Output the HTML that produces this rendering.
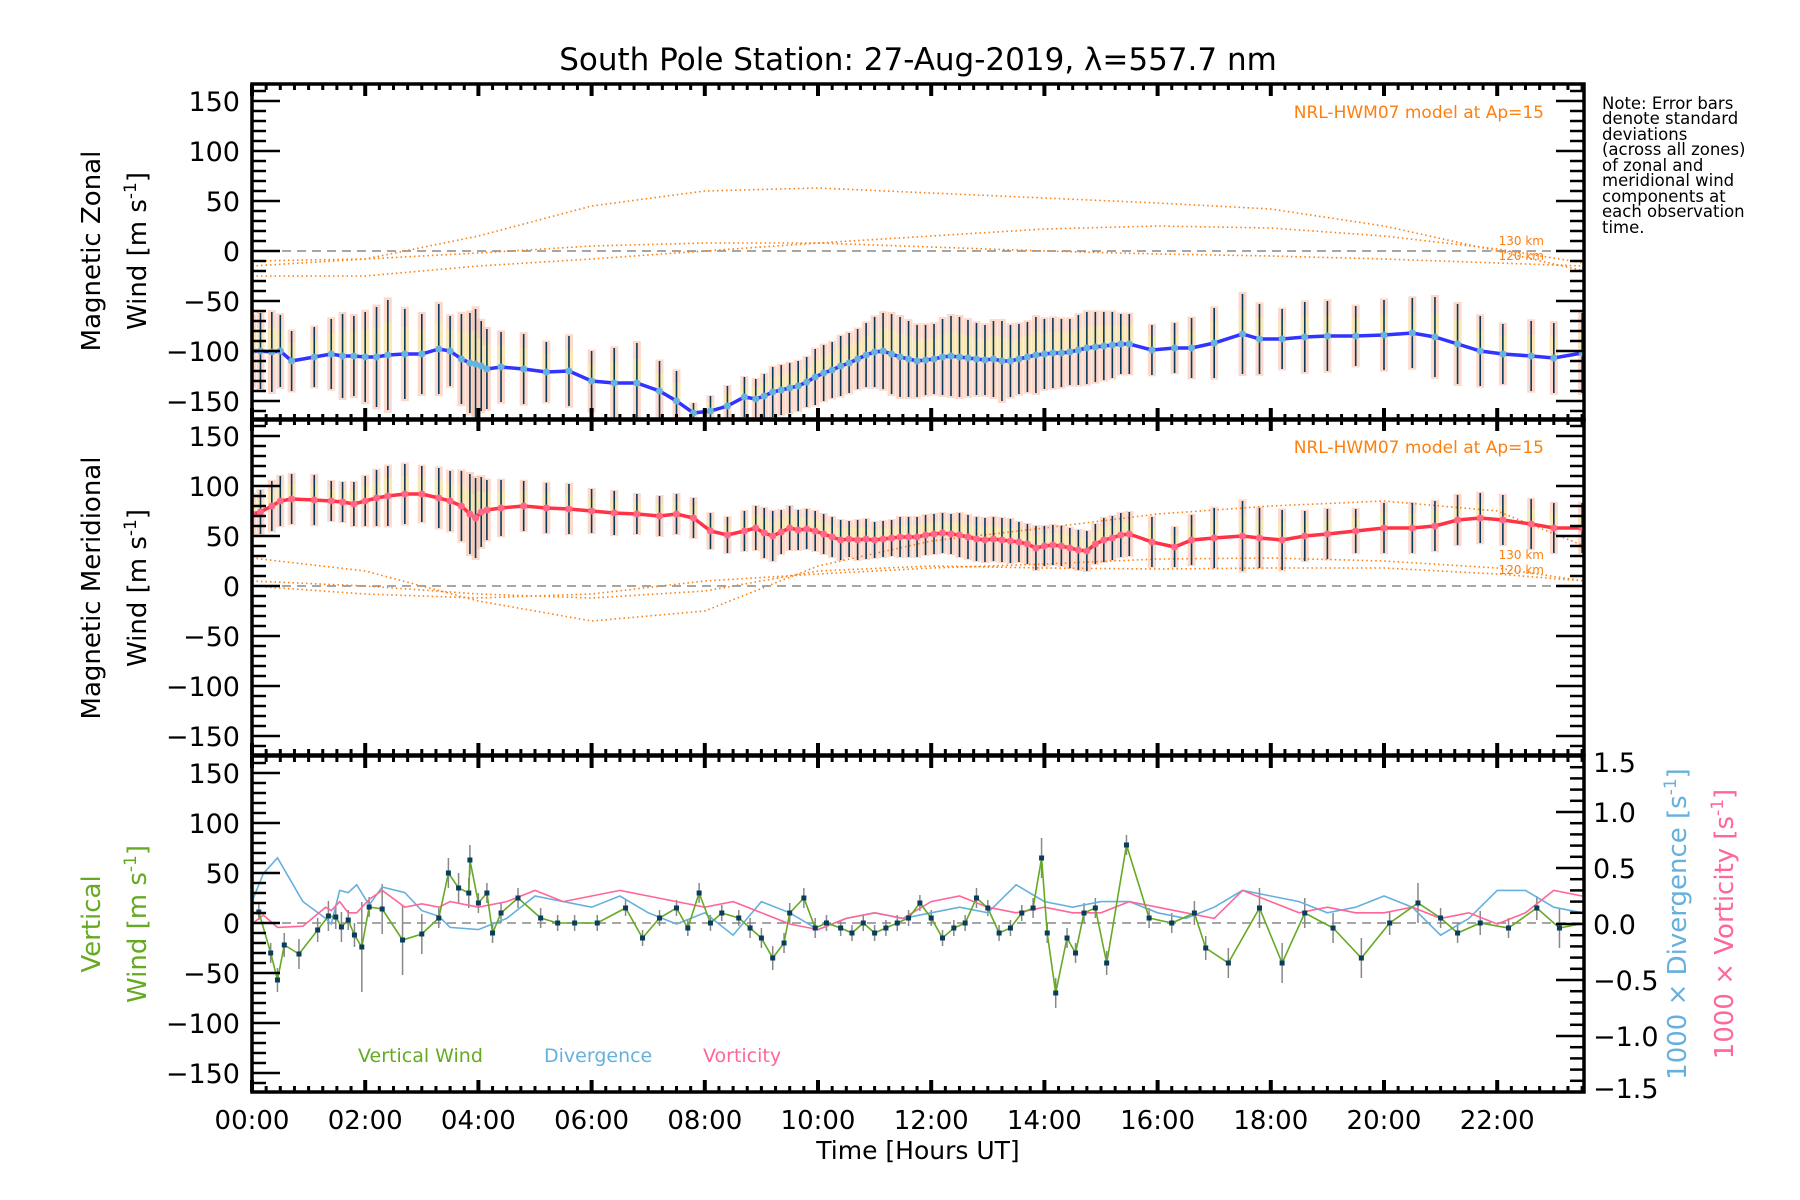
<!DOCTYPE html>
<html><head><meta charset="utf-8"><style>
html,body{margin:0;padding:0;background:#fff}
svg{display:block}
text{font-family:"DejaVu Sans","Liberation Sans",sans-serif}
</style></head><body>
<svg id="c" width="1800" height="1200" viewBox="0 0 1800 1200" xmlns="http://www.w3.org/2000/svg">
<rect width="1800" height="1200" fill="#fff"/>
<text x="918" y="70" font-size="31" text-anchor="middle">South Pole Station: 27-Aug-2019, λ=557.7 nm</text>
<g id="note" font-size="16.5">
<text x="1602" y="109">Note: Error bars</text><text x="1602" y="124">denote standard</text><text x="1602" y="140">deviations</text><text x="1602" y="155">(across all zones)</text><text x="1602" y="171">of zonal and</text><text x="1602" y="186">meridional wind</text><text x="1602" y="202">components at</text><text x="1602" y="217">each observation</text><text x="1602" y="233">time.</text>
</g>
<text x="918" y="1159" font-size="25" text-anchor="middle">Time [Hours UT]</text>
<g font-size="26" text-anchor="middle">
<text transform="translate(100,251) rotate(-90)">Magnetic Zonal</text>
<text transform="translate(146,251) rotate(-90)">Wind [m s<tspan font-size="17" dy="-10">-1</tspan><tspan dy="10">]</tspan></text></g>
<g font-size="26" text-anchor="middle">
<text transform="translate(100,588) rotate(-90)">Magnetic Meridional</text>
<text transform="translate(146,588) rotate(-90)">Wind [m s<tspan font-size="17" dy="-10">-1</tspan><tspan dy="10">]</tspan></text></g>
<g font-size="26" text-anchor="middle" fill="#66aa22">
<text transform="translate(100,924) rotate(-90)">Vertical</text>
<text transform="translate(146,924) rotate(-90)">Wind [m s<tspan font-size="17" dy="-10">-1</tspan><tspan dy="10">]</tspan></text></g>
<text transform="translate(1686,924) rotate(-90)" font-size="26" text-anchor="middle" fill="#66b0dd">1000 × Divergence [s<tspan font-size="17" dy="-10">-1</tspan><tspan dy="10">]</tspan></text>
<text transform="translate(1733,924) rotate(-90)" font-size="26" text-anchor="middle" fill="#ff6699">1000 × Vorticity [s<tspan font-size="17" dy="-10">-1</tspan><tspan dy="10">]</tspan></text>
<text x="358" y="1062" font-size="19" fill="#66aa22">Vertical Wind</text>
<text x="544" y="1062" font-size="19" fill="#66b0dd">Divergence</text>
<text x="703" y="1062" font-size="19" fill="#ff6699">Vorticity</text>
</svg>
<script>
const obsT=[0,0.15,0.35,0.5,0.7,1.1,1.4,1.6,1.8,2.0,2.2,2.4,2.7,3.0,3.3,3.5,3.7,3.85,3.95,4.05,4.15,4.4,4.8,5.2,5.6,6.0,6.4,6.8,7.2,7.5,7.8,8.1,8.4,8.7,
8.9,9.05,9.2,9.35,9.5,9.65,9.8,9.95,10.1,10.25,10.4,10.55,10.7,10.85,11.0,11.15,11.3,11.45,11.6,11.75,11.9,12.05,12.2,12.35,12.5,12.65,12.8,12.95,13.1,13.25,13.4,13.55,13.7,13.85,14.0,14.15,14.3,14.45,14.6,14.75,14.9,15.05,15.2,15.35,15.5,
15.9,16.3,16.6,17.0,17.5,17.8,18.2,18.6,19.0,19.5,20.0,20.5,20.9,21.3,21.7,22.1,22.6,23.0,23.5];
const zonal=[-100,-100,-101,-100,-110,-106,-103,-105,-105,-106,-106,-104,-103,-103,-98,-100,-108,-112,-113,-115,-118,-116,-118,-121,-120,-130,-132,-132,-140,-150,-162,-160,-155,-146,
-148,-145,-141,-139,-137,-135,-131,-126,-122,-119,-115,-112,-108,-104,-101,-100,-103,-106,-108,-110,-109,-108,-106,-105,-106,-107,-108,-109,-108,-110,-110,-108,-106,-104,-103,-102,-102,-101,-99,-97,-96,-95,-94,-93,-93,
-99,-97,-97,-92,-83,-88,-88,-86,-85,-85,-84,-82,-86,-93,-100,-103,-105,-107,-102];
const zonalSd=[35,38,40,36,30,30,35,42,40,45,50,55,45,40,45,35,45,50,55,45,40,35,35,30,35,30,35,40,30,30,10,15,20,20,
20,22,25,25,25,25,25,28,28,28,30,30,30,32,35,38,40,40,38,36,35,35,38,40,40,38,36,35,38,40,36,35,35,38,35,35,34,33,35,36,35,34,33,30,30,
25,25,30,35,40,35,30,35,35,30,35,35,40,40,35,30,35,35,40];
const merid=[72,74,80,85,87,86,85,84,82,85,88,90,92,92,88,85,80,72,68,74,76,78,80,78,77,75,73,72,70,72,68,55,51,55,
58,53,50,54,58,56,57,55,52,49,46,47,46,47,46,47,48,49,49,49,51,52,53,52,51,49,47,46,47,46,45,44,42,38,40,41,40,38,36,35,42,46,48,51,52,
44,39,46,48,50,48,46,50,52,55,58,58,60,66,68,66,62,58,58];
const meridSd=[20,22,25,25,25,25,20,20,22,25,28,30,30,28,30,30,35,40,40,35,30,28,25,25,25,22,22,20,20,20,20,18,18,20,
22,25,25,22,22,20,20,20,20,20,20,18,20,20,18,18,18,20,20,20,20,20,20,20,22,22,22,22,22,22,22,20,20,22,20,20,20,20,20,20,20,22,22,22,22,
25,20,25,30,35,30,30,25,25,22,25,25,25,25,25,25,25,25,25];
const modelT=[0,2,4,6,8,10,12,14,16,18,20,22,23.54];
const zonalModelA=[-15,-8,15,45,60,63,58,53,48,42,25,0,-20];
const zonalModelB=[-10,-8,-2,5,8,8,4,0,-3,-5,-8,-12,-15];
const zonalModelC=[-25,-25,-15,-8,0,8,15,22,25,23,15,2,-12];
const meridModelA=[28,15,-15,-35,-25,20,45,58,72,80,85,75,40];
const meridModelB=[5,0,-8,-12,-5,15,20,18,17,18,18,12,5];
const meridModelC=[0,-8,-12,-8,5,12,18,22,27,28,25,18,5];
const vertT=[0.12,0.33,0.45,0.57,0.83,1.16,1.35,1.48,1.58,1.7,1.81,1.94,2.07,2.3,2.66,3.0,3.3,3.47,3.65,3.83,3.85,4.0,4.15,4.25,4.4,4.7,5.1,5.4,5.7,6.1,6.6,6.9,7.2,7.5,7.7,7.9,8.1,8.3,8.6,8.8,9.0,9.2,9.4,9.5,9.75,9.95,10.15,10.4,10.6,10.8,11.0,11.2,11.4,11.6,11.8,12.0,12.2,12.4,12.6,12.8,13.0,13.2,13.4,13.6,13.8,13.95,14.05,14.2,14.4,14.55,14.7,14.9,15.1,15.45,15.85,16.25,16.65,16.85,17.25,17.8,18.2,18.6,19.1,19.6,20.1,20.6,21.0,21.3,21.7,22.2,22.7,23.1,23.55];
const vertW=[11,-30,-57,-22,-31,-7,7,6,-4,3,-12,-24,16,14,-17,-11,5,50,35,30,63,20,30,-10,10,25,5,0,0,0,15,-15,5,15,-5,30,0,10,5,-5,-15,-35,-20,10,25,-5,0,-5,-10,0,-10,-5,0,5,20,5,-15,-5,0,25,15,-10,-5,10,15,65,-10,-70,-15,-30,10,15,-40,78,5,0,10,-25,-40,15,-40,10,-5,-35,0,20,5,-10,0,-5,15,-5,0];
const vertErr=[8,10,12,12,15,12,15,12,15,10,12,45,10,25,35,20,10,15,15,15,15,10,10,10,10,10,10,8,8,8,8,8,8,8,8,10,8,8,8,10,10,12,10,10,10,10,8,8,8,8,8,8,8,8,8,8,8,8,8,10,8,8,8,8,10,20,10,15,10,10,10,10,12,10,10,10,12,12,15,20,20,15,15,20,12,20,10,10,12,10,12,20,10];
const divT=[0,0.2,0.45,0.9,1.3,1.4,1.55,1.7,1.85,2.07,2.3,2.7,3.0,3.3,3.5,4,4.5,5,5.5,6,6.5,7,7.5,8,8.5,9,9.5,10,10.5,11,11.5,12,12.5,13,13.5,14,14.5,15,15.5,16,16.5,17,17.5,18,18.5,19,19.5,20,20.5,21,21.5,22,22.5,23,23.5];
const divV=[0.2,0.45,0.59,0.2,0.05,0.0,0.3,0.28,0.35,0.17,0.33,0.28,0.12,0.07,-0.03,-0.05,0.05,0.25,0.2,0.15,0.25,0.1,0.0,0.1,-0.1,0.2,0.1,-0.05,0.05,0.1,0.05,0.1,0.15,0.1,0.35,0.2,0.15,0.2,0.2,0.1,0.05,0.15,0.3,0.25,0.2,0.1,0.15,0.25,0.15,-0.1,0.05,0.3,0.3,0.15,0.1];
const vorV=[0.0,0.08,-0.03,-0.02,0.15,0.12,0.2,0.1,0.1,0.22,0.3,0.15,0.18,0.15,0.2,0.15,0.2,0.3,0.2,0.25,0.3,0.25,0.2,0.15,0.2,0.1,0.0,-0.05,0.05,0.1,0.05,0.2,0.25,0.15,0.1,0.15,0.1,0.1,0.2,0.15,0.1,0.05,0.3,0.2,0.1,0.15,0.1,0.1,0.15,0.05,0.1,0.0,0.1,0.3,0.25];
const yTicks=[-150,-100,-50,0,50,100,150];
const rTicks=[-1.5,-1.0,-0.5,0.0,0.5,1.0,1.5];
const xTickLabels=['00:00','02:00','04:00','06:00','08:00','10:00','12:00','14:00','16:00','18:00','20:00','22:00'];

const NS='http://www.w3.org/2000/svg';
const svg=document.getElementById('c');
const L=252,R=1584,TOPS=[84,419,756],PH=336;
const xs=h=>L+h*56.6;
const ys=(p,v)=>TOPS[p]+167-v;
const yr=v=>TOPS[2]+168-v*112;
function mk(tag,at,parent){const e=document.createElementNS(NS,tag);for(const k in at)e.setAttribute(k,at[k]);(parent||svg).appendChild(e);return e;}
// clip paths
const defs=mk('defs',{});
for(let p=0;p<3;p++){const cp=mk('clipPath',{id:'cp'+p},defs);mk('rect',{x:L,y:TOPS[p],width:R-L,height:PH},cp);}
function poly(pts,at,g){return mk('polyline',Object.assign({points:pts.map(q=>q[0].toFixed(1)+','+q[1].toFixed(1)).join(' '),fill:'none'},at),g);}

const comps=[[zonal,zonalSd,'#3333ff','#66b3dd',[zonalModelA,zonalModelB,zonalModelC],'zonal'],[merid,meridSd,'#ff3344','#ff6688',[meridModelA,meridModelB,meridModelC],'meridional']];
comps.forEach((c,p)=>{
  const g=mk('g',{'clip-path':'url(#cp'+p+')'});
  
  
  // zero line
  const z=mk('line',{x1:L,x2:R,y1:ys(p,0),y2:ys(p,0),stroke:'#888','stroke-width':1.5,'stroke-dasharray':'9,6'},g);
  
  
  // bands
  obsT.forEach((t,i)=>{const v=c[0][i],s=c[1][i];
    const b=mk('rect',{x:xs(t)-4,y:ys(p,v+s*1.05),width:8,height:s*2.1,fill:'#fbb9a0','fill-opacity':0.55},g);
    
    
    const b2=mk('rect',{x:xs(t)-4,y:ys(p,v+s*0.6),width:8,height:s*0.6,fill:'#f8f0a8','fill-opacity':0.6},g);
    
    
  });
  // models
  c[4].forEach((m,k)=>{const pl=poly(modelT.map((t,i)=>[xs(t),ys(p,m[i])]),{stroke:'#ff7f0e','stroke-width':1.6,'stroke-dasharray':'1.5,3'},g);
    
    });
  // error bars
  obsT.forEach((t,i)=>{const v=c[0][i],s=c[1][i];
    const e=mk('line',{x1:xs(t),x2:xs(t),y1:ys(p,v-s),y2:ys(p,v+s),stroke:'#073a5a','stroke-width':1.6},g);
    
    });
  const ln=poly(obsT.map((t,i)=>[xs(t),ys(p,c[0][i])]),{stroke:c[2],'stroke-width':3.5},g);
  
  
  obsT.forEach((t,i)=>{const d=mk('circle',{cx:xs(t),cy:ys(p,c[0][i]),r:3.5,fill:c[3]},g);
    
    });
  const lab=mk('text',{x:1544,y:TOPS[p]+34,'font-size':17,fill:'#ff7f0e','text-anchor':'end'});
  lab.textContent='NRL-HWM07 model at Ap=15';
  
  
  ['130 km','120 km'].forEach((s,k)=>{const t=mk('text',{x:1544,y:TOPS[p]+(p==0?161:140)+k*15,'font-size':12,fill:'#ff7f0e','text-anchor':'end'});
    t.textContent=s;
    
    });
});
// panel 3
{
  const g=mk('g',{'clip-path':'url(#cp2)'});
  
  
  const z=mk('line',{x1:L,x2:R,y1:ys(2,0),y2:ys(2,0),stroke:'#888','stroke-width':1.5,'stroke-dasharray':'9,6'},g);
  
  
  vertT.forEach((t,i)=>{const e=mk('line',{x1:xs(t),x2:xs(t),y1:ys(2,vertW[i]-vertErr[i]),y2:ys(2,vertW[i]+vertErr[i]),stroke:'#888','stroke-width':1.5},g);
    
    });
  const dl=poly(divT.map((t,i)=>[xs(t),yr(divV[i])]),{stroke:'#66b0dd','stroke-width':1.6},g);
  
  
  const vl=poly(divT.map((t,i)=>[xs(t),yr(vorV[i])]),{stroke:'#ff6699','stroke-width':1.6},g);
  
  
  const wl=poly(vertT.map((t,i)=>[xs(t),ys(2,vertW[i])]),{stroke:'#66aa22','stroke-width':1.6},g);
  
  
  vertT.forEach((t,i)=>{const d=mk('rect',{x:xs(t)-2.5,y:ys(2,vertW[i])-2.5,width:5,height:5,fill:'#0a3d5c'},g);
    
    });
}
// axes
const ax=mk('g',{stroke:'#000',fill:'none'});


for(let p=0;p<3;p++){
  const T=TOPS[p],B=T+PH;
  mk('rect',{x:L,y:T,width:R-L,height:PH,'stroke-width':3.5},ax);
  for(let m=0;m*0.25<=23.54;m++){const x=xs(m*0.25),len=m%8==0?12:6;
    mk('line',{x1:x,x2:x,y1:B,y2:B-len,'stroke-width':m%8==0?4:3},ax);
    mk('line',{x1:x,x2:x,y1:T,y2:T+len,'stroke-width':m%8==0?4:3},ax);}
  for(let v=-160;v<=160;v+=10){const y=ys(p,v),len=v%50==0?28:14;
    mk('line',{x1:L,x2:L+len,y1:y,y2:y,'stroke-width':2.5},ax);
    if(p<2)mk('line',{x1:R,x2:R-len,y1:y,y2:y,'stroke-width':2.5},ax);}
  yTicks.forEach(v=>{const t=mk('text',{x:L-12,y:ys(p,v)+10,'font-size':27,'text-anchor':'end',fill:'#000',stroke:'none'});
    t.textContent=String(v).replace('-','\u2212');
    
    });
}
for(let k=-15;k<=15;k++){const y=yr(k/10),len=k%5==0?28:14;mk('line',{x1:R,x2:R-len,y1:y,y2:y,'stroke-width':2.5},ax);}
rTicks.forEach((v,i)=>{const t=mk('text',{x:1593,y:yr(v)+10+(i==6?6:0)-(i==0?4:0),'font-size':27,fill:'#000',stroke:'none'});
  t.textContent=(v<0?'\u2212':'')+Math.abs(v).toFixed(1);
  
  });
xTickLabels.forEach((s,i)=>{const t=mk('text',{x:xs(i*2),y:1129,'font-size':26,'text-anchor':'middle',fill:'#000',stroke:'none'});
  t.textContent=s;
  
  });
</script>
</body></html>
